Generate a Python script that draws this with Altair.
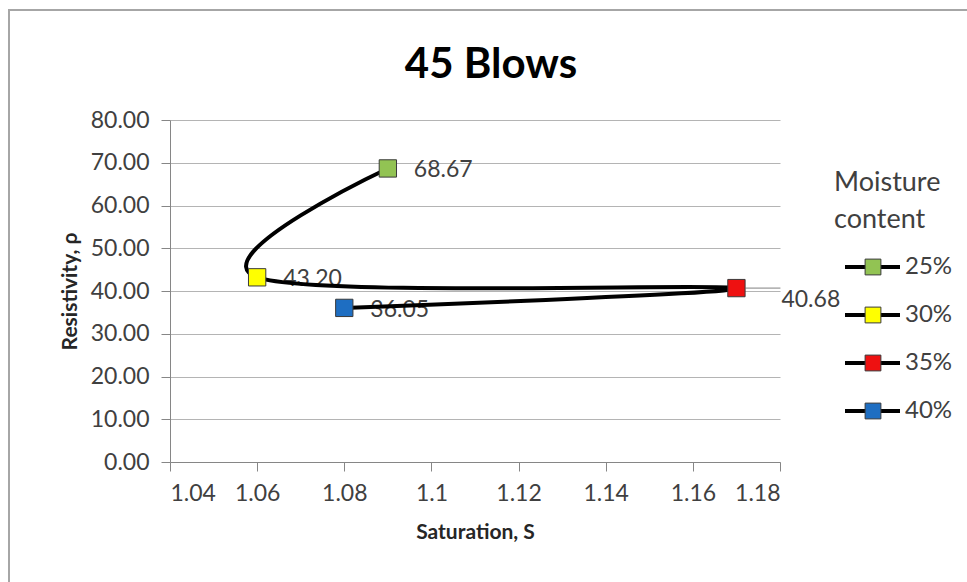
import altair as alt
import pandas as pd

# ---- data ----
moisture = ["25%", "30%", "35%", "40%"]
saturation = [1.09, 1.06, 1.17, 1.08]
resistivity = [68.67, 43.20, 40.68, 36.05]
point_labels = ["68.67", "43.20", "40.68", "36.05"]
colors = ["#92C353", "#FFFF00", "#EE1111", "#1E6EC2"]
x_ticks = [1.04, 1.06, 1.08, 1.10, 1.12, 1.14, 1.16, 1.18]
y_ticks = [0, 10, 20, 30, 40, 50, 60, 70, 80]
chart_title = "45 Blows"
legend_title = ["Moisture", "content"]

df = pd.DataFrame({
    "Moisture": moisture,
    "S": saturation,
    "R": resistivity,
    "label": point_labels,
    "order": list(range(len(moisture))),
})
leg_df = pd.DataFrame({"Moisture": moisture})
one = pd.DataFrame({"k": [0]})

FONT = "Lato"
W, H = 610, 342

xscale = alt.Scale(domain=[1.04, 1.18], nice=False, zero=False)
yscale = alt.Scale(domain=[0, 80], nice=False, zero=True)
color_scale = alt.Scale(domain=moisture, range=colors)

x_enc = alt.X("S:Q", scale=xscale, axis=alt.Axis(
    values=x_ticks, format="~g", title="Saturation, S", grid=False,
    tickSize=9, labelPadding=11, titlePadding=16))
y_enc = alt.Y("R:Q", scale=yscale, axis=alt.Axis(
    values=y_ticks, format=".2f", title="Resistivity, ρ", grid=True,
    tickSize=9, labelPadding=12, titlePadding=10))

base = alt.Chart(df)

labels_a = base.transform_filter(alt.datum.Moisture != "35%").mark_text(
    align="left", baseline="middle", dx=26, dy=2,
    font=FONT, fontSize=23, color="#404040").encode(x=x_enc, y=y_enc, text="label:N")
labels_b = base.transform_filter(alt.datum.Moisture == "35%").mark_text(
    align="left", baseline="middle", dx=45, dy=12,
    font=FONT, fontSize=23, color="#404040").encode(x=x_enc, y=y_enc, text="label:N")
leader = base.transform_filter(alt.datum.Moisture == "35%").mark_rule(
    color="#808080", strokeWidth=1, xOffset=9, x2Offset=44).encode(x=x_enc, x2="S:Q", y=y_enc)
line = base.mark_line(interpolate="cardinal", tension=0, color="#000000",
                      strokeWidth=4).encode(x=x_enc, y=y_enc, order="order:Q")
points = base.mark_square(size=300, stroke="#3a3a3a", strokeWidth=1, opacity=1).encode(
    x=x_enc, y=y_enc, fill=alt.Fill("Moisture:N", scale=color_scale, legend=None))

main = alt.layer(labels_a, labels_b, leader, line, points)

# ---- custom legend (line with square marker) ----
leg_y = alt.Y("Moisture:N", scale=alt.Scale(domain=moisture, range=[123, 315]), axis=None)
leg_line = alt.Chart(leg_df).mark_rule(color="#000000", strokeWidth=4).encode(
    x=alt.value(675), x2=alt.value(730), y=leg_y)
leg_sq = alt.Chart(leg_df).mark_square(size=250, stroke="#3a3a3a", strokeWidth=1, opacity=1).encode(
    x=alt.value(703), y=leg_y, fill=alt.Fill("Moisture:N", scale=color_scale, legend=None))
leg_txt = alt.Chart(leg_df).mark_text(align="left", baseline="middle", font=FONT,
                                      fontSize=24, color="#404040").encode(
    x=alt.value(735), y=leg_y, text="Moisture:N")
leg_title = alt.Chart(one).mark_text(align="left", baseline="middle", font=FONT,
                                     fontSize=27, lineHeight=37, color="#404040").encode(
    x=alt.value(664), y=alt.value(63), text=alt.value(legend_title))
title_txt = alt.Chart(one).mark_text(align="center", baseline="middle", font=FONT,
                                     fontSize=42, fontWeight="bold", color="#000000").encode(
    x=alt.value(321), y=alt.value(-55), text=alt.value(chart_title))
border = alt.Chart(one).mark_rect(fillOpacity=0, stroke="#A6A6A6", strokeWidth=2).encode(
    x=alt.value(-161), y=alt.value(-110), x2=alt.value(820), y2=alt.value(500))

legend = alt.layer(border, title_txt, leg_title, leg_line, leg_sq, leg_txt)

chart = alt.layer(main, legend).resolve_scale(y="independent").properties(
    width=W, height=H,
    autosize=alt.AutoSizeParams(type="none"),
    padding={"left": 170, "top": 120, "right": 967 - 170 - W, "bottom": 582 - 120 - H},
).configure_view(strokeWidth=0).configure_axis(
    labelFont=FONT, labelFontSize=23, labelColor="#404040",
    titleFont=FONT, titleFontSize=21, titleFontWeight="bold", titleColor="#262626",
    domainColor="#868686", tickColor="#868686", gridColor="#B4B4B4",
    domainWidth=1, tickWidth=1, gridWidth=1,
)

chart.save("out.html", embed_options={"renderer": "svg", "actions": False})
